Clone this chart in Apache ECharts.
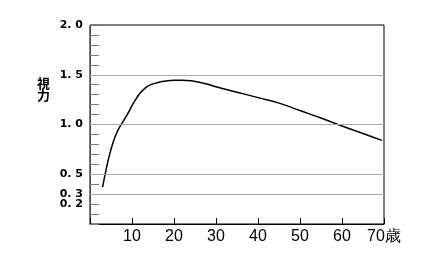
<!DOCTYPE html>
<html><head><meta charset="utf-8">
<script src="https://cdn.jsdelivr.net/npm/echarts@6/dist/echarts.min.js"></script>
<style>html,body{margin:0;padding:0;background:#fff}#c{width:429px;height:264px}</style>
</head><body><div id="c"></div>
<script>
var ages = [3, 4, 5, 6, 7, 8, 9, 10, 11, 12, 13, 14, 16, 18, 20, 22, 24, 26, 28, 30, 35, 40, 45, 50, 55, 60, 65, 69.5];
var vision = [0.37, 0.58, 0.75, 0.88, 0.97, 1.04, 1.11, 1.19, 1.26, 1.32, 1.36, 1.39, 1.42, 1.437, 1.445, 1.445, 1.44, 1.425, 1.405, 1.38, 1.325, 1.27, 1.215, 1.14, 1.065, 0.985, 0.91, 0.84];
var yTickLabels = {"2.0": "2. 0", "1.5": "1. 5", "1.0": "1. 0", "0.5": "0. 5", "0.3": "0. 3", "0.2": "0. 2"};
var gridValues = [1.5, 1.0, 0.5, 0.3];
var xTickLabels = {10: "10", 20: "20", 30: "30", 40: "40", 50: "50", 60: "60", 70: "70歳"};

var chart = echarts.init(document.getElementById('c'), null, {renderer: 'canvas'});
chart.setOption({
  animation: false,
  grid: {left: 90, top: 25, width: 294, height: 199, show: true, borderColor: '#000', borderWidth: 1, backgroundColor: 'transparent'},
  xAxis: {
    type: 'value', min: 0, max: 70, interval: 10,
    axisLine: {show: true, lineStyle: {color: '#000', width: 1}},
    axisTick: {show: true, inside: true, length: 6, lineStyle: {color: '#000'}},
    splitLine: {show: false},
    axisLabel: {margin: 5, fontSize: 16, color: '#000', fontFamily: 'Liberation Sans',
      formatter: function (v) { return xTickLabels[Math.round(v)] || ''; }}
  },
  yAxis: {
    type: 'value', min: 0, max: 2, interval: 0.1,
    axisLine: {show: true, lineStyle: {color: '#444', width: 1}},
    axisTick: {show: true, inside: true, length: 9, lineStyle: {color: '#777'}},
    splitLine: {show: false},
    axisLabel: {margin: 7, fontSize: 11, fontWeight: 'bold', color: '#000', fontFamily: 'DejaVu Sans', hideOverlap: false,
      formatter: function (v) { return yTickLabels[v.toFixed(1)] || ''; }}
  },
  graphic: [{type: 'text', left: 37, top: 77, style: {text: '視\n力', fontSize: 13, lineHeight: 12, fontWeight: 'bold', fontFamily: 'Noto Sans CJK JP', fill: '#000'}}],
  series: [{
    type: 'line', data: ages.map(function (a, i) { return [a, vision[i]]; }),
    smooth: 0.5, symbol: 'none', lineStyle: {color: '#000', width: 1.5},
    markLine: {silent: true, symbol: 'none', label: {show: false},
      lineStyle: {color: '#aaa', type: 'solid', width: 1},
      data: gridValues.map(function (g) { return {yAxis: g}; })}
  }]
});
</script></body></html>
